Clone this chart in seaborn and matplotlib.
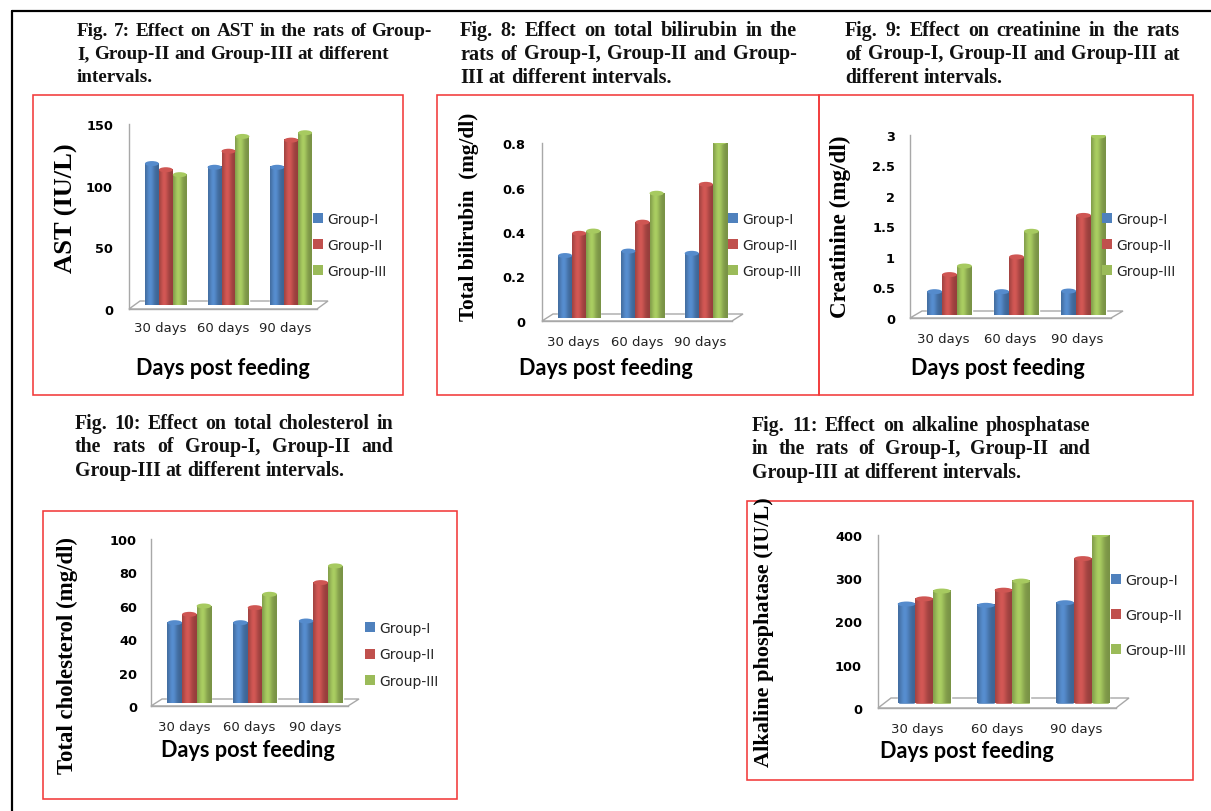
import numpy as np
import pandas as pd
import matplotlib
matplotlib.use("Agg")
import matplotlib.pyplot as plt
import matplotlib.transforms as mtransforms
from matplotlib.patches import Polygon, Rectangle, Ellipse, Patch
from matplotlib.lines import Line2D
import seaborn as sns

# ---------------------------------------------------------------- data
intervals = ["30 days", "60 days", "90 days"]
groups = ["Group-I", "Group-II", "Group-III"]
group_colors = ["#4F81BD", "#C0504D", "#9BBB59"]

ast_g1 = [115, 112, 112]
ast_g2 = [110, 125, 134]
ast_g3 = [106, 137, 140]
ast_ticks = [0, 50, 100, 150]
ast_tick_labels = ["0", "50", "100", "150"]

bili_g1 = [0.28, 0.30, 0.29]
bili_g2 = [0.38, 0.43, 0.60]
bili_g3 = [0.39, 0.56, 0.79]
bili_ticks = [0, 0.2, 0.4, 0.6, 0.8]
bili_tick_labels = ["0", "0.2", "0.4", "0.6", "0.8"]

crea_g1 = [0.38, 0.38, 0.39]
crea_g2 = [0.66, 0.95, 1.63]
crea_g3 = [0.80, 1.37, 2.93]
crea_ticks = [0, 0.5, 1, 1.5, 2, 2.5, 3]
crea_tick_labels = ["0", "0.5", "1", "1.5", "2", "2.5", "3"]

chol_g1 = [48, 48, 49]
chol_g2 = [53, 57, 72]
chol_g3 = [58, 65, 82]
chol_ticks = [0, 20, 40, 60, 80, 100]
chol_tick_labels = ["0", "20", "40", "60", "80", "100"]

alp_g1 = [230, 227, 233]
alp_g2 = [242, 262, 335]
alp_g3 = [260, 283, 390]
alp_ticks = [0, 100, 200, 300, 400]
alp_tick_labels = ["0", "100", "200", "300", "400"]

captions = {
    "fig7": ["Fig. 7: Effect on AST in the rats of Group-",
             "I, Group-II  and Group-III at different",
             "intervals."],
    "fig8": ["Fig. 8: Effect on total bilirubin in the",
             "rats of Group-I, Group-II and Group-",
             "III at different intervals."],
    "fig9": ["Fig. 9: Effect on creatinine in the rats",
             "of Group-I, Group-II and Group-III at",
             "different intervals."],
    "fig10": ["Fig. 10: Effect on total cholesterol in",
              "the rats of Group-I, Group-II and",
              "Group-III  at different intervals."],
    "fig11": ["Fig. 11: Effect on alkaline phosphatase",
              "in the rats of Group-I, Group-II and",
              "Group-III  at different intervals."],
}

xlabel_text = "Days post feeding"

# ---------------------------------------------------------------- figure
W, H = 1211, 812
sns.set_theme(style="white")
plt.rcParams["font.family"] = ["DejaVu Sans"]

fig = plt.figure(figsize=(W / 100, H / 100), dpi=100)
fig.patch.set_facecolor("white")
renderer = fig.canvas.get_renderer()

GRAY = "#A8A8A8"
PT = 0.72  # points per pixel at 100 dpi


def fx(x):
    return x / W


def fy(y):
    return 1 - y / H


def px_rect(x0, y0, x1, y1):
    return [x0 / W, 1 - y1 / H, (x1 - x0) / W, (y1 - y0) / H]


def text_extent(s, **kw):
    t = fig.text(0, 0, s, **kw)
    bb = t.get_window_extent(renderer)
    t.remove()
    return bb


def fitted_size(s, target_px, base=12, **kw):
    bb = text_extent(s, fontsize=base, **kw)
    return base * target_px / max(bb.width, bb.height)


# outer frame (top and left rules)
fig.add_artist(Line2D([fx(12), fx(W)], [fy(12), fy(12)], color="black", lw=2.2 * PT,
                      transform=fig.transFigure))
fig.add_artist(Line2D([fx(12), fx(12)], [fy(12), fy(H)], color="black", lw=2.2 * PT,
                      transform=fig.transFigure))

# red frames around each chart
for (x0, y0, x1, y1) in [(33, 96, 403, 396), (437, 96, 819, 396), (819, 96, 1193, 396),
                         (43, 512, 457, 800), (747, 502, 1193, 781)]:
    fig.add_artist(Rectangle((fx(x0), fy(y1)), (x1 - x0) / W, (y1 - y0) / H, fill=False,
                             edgecolor="#F23A3A", lw=1.6 * PT, transform=fig.transFigure))


# ---------------------------------------------------------------- captions
def caption(x, y0, pitch, lines, targets, fill=0.99):
    kw = dict(family="Liberation Serif", weight="bold", color="#111111")
    size = fitted_size(lines[0], targets[0] * fill, **kw)
    kw.update(fontsize=size, va="center", ha="left")
    space_px = text_extent("a a", **kw).width - 2 * text_extent("a", **kw).width
    for i, (line, target) in enumerate(zip(lines, targets)):
        y = y0 + i * pitch
        words = line.split()
        items = [fig.text(0, 0, w, **kw) for w in words]
        widths = [t.get_window_extent(renderer).width for t in items]
        if target is None or len(words) < 2:
            gap = space_px
        else:
            gap = max((target - sum(widths)) / (len(words) - 1), space_px * 0.8)
        cx = x
        for t, w in zip(items, widths):
            t.set_position((fx(cx), fy(y)))
            cx += w + gap


caption(77, 31, 23.5, captions["fig7"], [355, None, None], fill=0.97)
caption(460, 31, 23.5, captions["fig8"], [337, 337, None], fill=0.94)
caption(845, 31, 23.5, captions["fig9"], [335, 335, None], fill=0.94)
caption(75, 424, 23.5, captions["fig10"], [318, 318, None], fill=0.96)
caption(752, 426, 23.5, captions["fig11"], [338, 338, None], fill=0.96)


# ---------------------------------------------------------------- charts
def cylinder_shade(color, n=64):
    base = np.array(matplotlib.colors.to_rgb(color))
    t = np.linspace(0, 1, n)
    light = 0.78 + 0.32 * np.exp(-((t - 0.38) / 0.30) ** 2)
    return np.clip(base[None, :] * light[:, None], 0, 1)[None, :, :]


def draw_chart(vals, ticks, tick_labels, ylabel, x0, x1, yz, yt, depth, ylab, xlab,
               leg, xtick_y, ytick_right, legend_fs=10):
    ax = fig.add_axes(px_rect(x0, yt, x1, yz))
    ax.set_facecolor("none")
    df = pd.DataFrame({
        "interval": intervals * len(groups),
        "group": np.repeat(groups, len(intervals)),
        "value": np.concatenate(vals),
    })
    sns.barplot(data=df, x="interval", y="value", hue="group", order=intervals,
                hue_order=groups, palette=group_colors, saturation=1, width=0.667,
                gap=0, errorbar=None, legend=False, ax=ax, zorder=3)

    ymax = ticks[-1]
    cat_px = (x1 - x0) / 3.0
    unit_px = (yz - yt) / ymax
    ddx, ddy = depth

    # bars sit halfway back on the floor
    shift = mtransforms.ScaledTranslation(ddx * 0.5 / 100, ddy * 0.45 / 100,
                                          fig.dpi_scale_trans)
    trans = ax.transData + shift
    cap_h = 5.0 / unit_px
    for color, cont in zip(group_colors, ax.containers):
        for bar in cont:
            bar.set_transform(trans)
            bx, bw, bh = bar.get_x(), bar.get_width(), bar.get_height()
            ax.imshow(cylinder_shade(color), extent=(bx, bx + bw, 0, bh), aspect="auto",
                      transform=trans, zorder=4, interpolation="bilinear")
            cap_rgb = np.clip(np.array(matplotlib.colors.to_rgb(color)) * 1.08, 0, 1)
            ax.add_patch(Ellipse((bx + bw / 2, bh), bw, cap_h, transform=trans,
                                 facecolor=cap_rgb, edgecolor="none", zorder=5))

    # floor of the 3-D plot area
    fdx = ddx / cat_px
    fdy = ddy / unit_px
    ax.add_patch(Polygon([(-0.5, 0), (-0.5 + fdx, fdy), (2.5 + fdx, fdy), (2.5, 0)],
                         closed=True, facecolor="white", edgecolor=GRAY, lw=1.0,
                         clip_on=False, zorder=1))

    ax.set_xlim(-0.5, 2.5)
    ax.set_ylim(0, ymax)
    for side in ("top", "right"):
        ax.spines[side].set_visible(False)
    for side in ("left", "bottom"):
        ax.spines[side].set_color(GRAY)
        ax.spines[side].set_linewidth(1.0)
        ax.spines[side].set_zorder(2)

    ax.set_yticks(ticks)
    ax.set_yticklabels(tick_labels, fontsize=9.3, fontweight="bold", color="black")
    ax.tick_params(axis="y", length=4 * PT, width=0.8, color=GRAY,
                   pad=(x0 - 4 - ytick_right) * PT)

    ax.set_xticks([0, 1, 2])
    ax.set_xticklabels(intervals, fontsize=9.5, color="#222222")
    ax.set_xticks([-0.5, 0.5, 1.5, 2.5], minor=True)
    ax.tick_params(axis="x", which="major", length=0, pad=(xtick_y - 7.5 - yz) * PT)
    ax.tick_params(axis="x", which="minor", length=4 * PT, width=0.8, color=GRAY)
    ax.set_xlabel("")
    ax.set_ylabel("")

    # axis titles
    ykw = dict(family="Liberation Serif", weight="bold")
    ysz = fitted_size(ylabel, ylab[2], base=14, rotation=90, **ykw)
    fig.text(fx(ylab[0]), fy(ylab[1]), ylabel, rotation=90, ha="center", va="center",
             fontsize=ysz, color="black", **ykw)
    xkw = dict(family="Lato", weight="bold")
    xsz = fitted_size(xlabel_text, 173, base=13, **xkw)
    fig.text(fx(xlab[0]), fy(xlab[1]), xlabel_text, ha="center", va="center",
             fontsize=xsz, color="black", **xkw)

    # legend
    fs_px = legend_fs / PT
    handles = [Patch(facecolor=c, edgecolor="none") for c in group_colors]
    ax.legend(handles, groups, loc="center left",
              bbox_to_anchor=(fx(leg[0]), fy(leg[1] + leg[2])),
              bbox_transform=fig.transFigure, frameon=False,
              fontsize=legend_fs, handlelength=10 / fs_px, handleheight=10 / fs_px,
              handletextpad=4 / fs_px, labelspacing=leg[2] / fs_px - 1.16,
              borderpad=0, borderaxespad=0)
    return ax


draw_chart((ast_g1, ast_g2, ast_g3), ast_ticks, ast_tick_labels, "AST (IU/L)",
           x0=129, x1=317, yz=310, yt=125, depth=(11, 8), ylab=(66, 208, 130),
           xlab=(223, 369), leg=(313, 218, 28), xtick_y=330, ytick_right=113)

draw_chart((bili_g1, bili_g2, bili_g3), bili_ticks, bili_tick_labels,
           "Total bilirubin  (mg/dl)",
           x0=542, x1=732, yz=322, yt=144, depth=(11, 7), ylab=(469, 217, 210),
           xlab=(606, 369), leg=(728, 218, 28), xtick_y=344, ytick_right=525)

draw_chart((crea_g1, crea_g2, crea_g3), crea_ticks, crea_tick_labels,
           "Creatinine (mg/dl)",
           x0=910, x1=1111, yz=319, yt=136, depth=(12, 7), ylab=(840, 227, 183),
           xlab=(998, 369), leg=(1102, 218, 28), xtick_y=341, ytick_right=895)

draw_chart((chol_g1, chol_g2, chol_g3), chol_ticks, chol_tick_labels,
           "Total cholesterol (mg/dl)",
           x0=151, x1=348, yz=707, yt=540, depth=(11, 7), ylab=(67, 656, 238),
           xlab=(248, 751), leg=(365, 627, 28.5), xtick_y=729, ytick_right=137)

draw_chart((alp_g1, alp_g2, alp_g3), alp_ticks, alp_tick_labels,
           "Alkaline phosphatase (IU/L)",
           x0=878, x1=1116, yz=709, yt=536, depth=(13, 10), ylab=(764, 632, 271),
           xlab=(967, 752), leg=(1111, 578, 38), xtick_y=731, ytick_right=862,
           legend_fs=10.3)

fig.savefig("out.png", dpi=100, facecolor="white")
